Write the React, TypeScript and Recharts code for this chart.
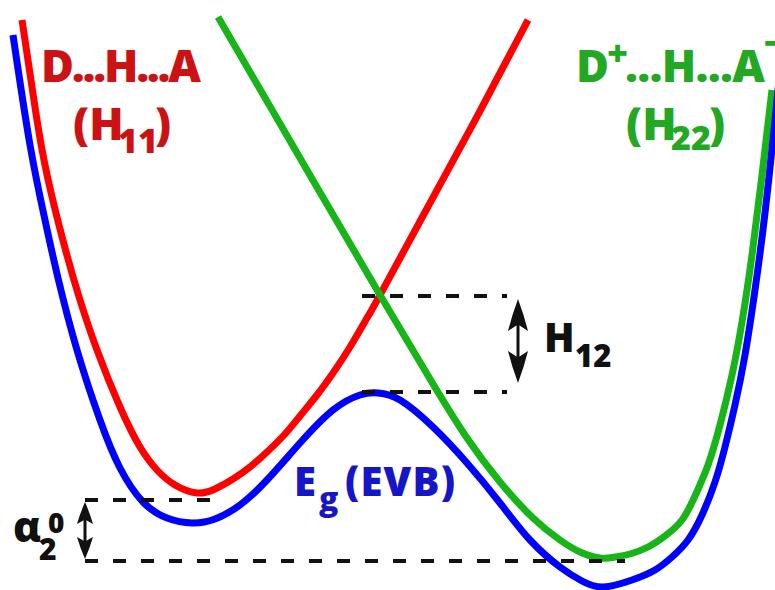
import React from 'react'
import { LineChart, Line, XAxis, YAxis, ReferenceLine } from 'recharts'

// reaction coordinate (left→right) and energy (0 at the bottom edge)
const redRc = [22, 32, 45, 65, 80, 97, 120, 140, 157, 175, 197, 215, 233, 250, 267, 285, 300, 317, 333, 350, 367, 380, 430, 480, 528]
const redE = [570, 503, 425, 342, 290, 240, 183, 143, 120, 105, 97, 101, 111, 123, 138, 156, 174, 195, 217, 243, 272, 295, 387, 479, 570]

const greenRc = [218, 300, 380, 433, 467, 500, 533, 560, 580, 600, 615, 630, 648, 665, 682, 695, 708, 720, 732, 742, 752, 762, 772]
const greenE = [573, 432, 295, 206, 152, 108, 72, 50, 38, 32, 33, 36, 43, 54, 70, 94, 125, 165, 215, 268, 335, 415, 500]

const blueRc = [13, 30, 45, 58, 77, 100, 120, 143, 167, 192, 215, 240, 267, 300, 333, 360, 378, 400, 433, 467, 500, 530, 560, 582, 603, 632, 655, 672, 688, 702, 715, 725, 735, 745, 755, 765, 775, 780]
const blueE = [555, 445, 370, 312, 240, 170, 122, 88, 72, 67, 71, 85, 110, 147, 180, 195, 197, 190, 163, 127, 87, 50, 23, 9, 3, 10, 20, 33, 50, 75, 108, 143, 185, 235, 300, 377, 470, 520]

// dashed guide levels
const alphaTopE = 90
const alphaBottomE = 29
const alphaStartRc = 85
const alphaTopEndRc = 210
const alphaBottomEndRc = 625
const h12TopE = 294
const h12BottomE = 198
const h12StartRc = 362
const h12EndRc = 507

// double arrows
const h12ArrowRc = 518
const h12ArrowE = [291, 207]
const alphaArrowRc = 85
const alphaArrowE = [88, 31]

const toPoints = (rc: number[], e: number[]) => rc.map((x, i) => ({ rc: x, e: e[i] }))

const redData = toPoints(redRc, redE)
const greenData = toPoints(greenRc, greenE)
const blueData = toPoints(blueRc, blueE)

const W = 775
const H = 590
const FONT = "'Open Sans', 'DejaVu Sans', sans-serif"
const RED_TEXT = '#cc1212'
const GREEN_TEXT = '#22a822'
const BLUE_TEXT = '#1616c8'
const INK = '#111111'

const DoubleArrow = ({ x1, y1, y2, head, wing }: any) => {
  const top = Math.min(y1, y2)
  const bot = Math.max(y1, y2)
  const x = x1
  const tipPath = (tip: number, dir: number) => {
    const base = tip + dir * head
    const notch = tip + dir * head * 0.8
    const mid = tip + dir * head * 0.5
    return `M${x},${tip} Q${x + wing * 0.6},${mid} ${x + wing},${base} L${x},${notch} L${x - wing},${base} Q${x - wing * 0.6},${mid} ${x},${tip} Z`
  }
  return (
    <g>
      <line x1={x} y1={top + head * 0.5} x2={x} y2={bot - head * 0.5} stroke={INK} strokeWidth={3} />
      <path d={tipPath(top, 1)} fill={INK} />
      <path d={tipPath(bot, -1)} fill={INK} />
    </g>
  )
}

const dashed = { stroke: INK, strokeWidth: 4, strokeDasharray: '13 15' }

export default function App() {
  return (
    <div style={{ position: 'relative', width: W, height: H, background: '#fff' }}>
      <style>{'body{margin:0}'}</style>
      <LineChart width={W} height={H} margin={{ top: 0, right: 0, bottom: 0, left: 0 }}>
        <XAxis dataKey="rc" type="number" domain={[0, W]} allowDataOverflow hide />
        <YAxis type="number" domain={[0, H]} allowDataOverflow hide />
        <Line data={redData} dataKey="e" type="natural" stroke="#ff0000" strokeWidth={7} dot={false} activeDot={false} isAnimationActive={false} />
        <Line data={greenData} dataKey="e" type="natural" stroke="#17b517" strokeWidth={7} dot={false} activeDot={false} isAnimationActive={false} />
        <Line data={blueData} dataKey="e" type="natural" stroke="#0000ff" strokeWidth={7} dot={false} activeDot={false} isAnimationActive={false} />
        <ReferenceLine segment={[{ x: alphaStartRc, y: alphaTopE }, { x: alphaTopEndRc, y: alphaTopE }]} {...dashed} />
        <ReferenceLine segment={[{ x: alphaStartRc, y: alphaBottomE }, { x: alphaBottomEndRc, y: alphaBottomE }]} {...dashed} />
        <ReferenceLine segment={[{ x: h12StartRc, y: h12TopE }, { x: h12EndRc, y: h12TopE }]} {...dashed} />
        <ReferenceLine segment={[{ x: h12StartRc, y: h12BottomE }, { x: h12EndRc, y: h12BottomE }]} {...dashed} />
        <ReferenceLine
          segment={[{ x: h12ArrowRc, y: h12ArrowE[0] }, { x: h12ArrowRc, y: h12ArrowE[1] }]}
          stroke={INK}
          shape={(p: any) => <DoubleArrow {...p} head={32} wing={10} />}
        />
        <ReferenceLine
          segment={[{ x: alphaArrowRc, y: alphaArrowE[0] }, { x: alphaArrowRc, y: alphaArrowE[1] }]}
          stroke={INK}
          shape={(p: any) => <DoubleArrow {...p} head={22} wing={8} />}
        />
      </LineChart>
      <svg
        width={W}
        height={H}
        style={{ position: 'absolute', left: 0, top: 0, pointerEvents: 'none' }}
        fontFamily={FONT}
        fontWeight={800}
      >
        {/* H11 label */}
        <text x={41} y={82} fontSize={45} fill={RED_TEXT} textLength={160} lengthAdjust="spacing">D...H...A</text>
        <text x={73} y={140} fontSize={45} fill={RED_TEXT}>
          (H
          <tspan x={118} y={153} fontSize={34}>11</tspan>
          <tspan x={155} y={140}>)</tspan>
        </text>

        {/* H22 label */}
        <text x={576} y={82} fontSize={45} fill={GREEN_TEXT}>
          D
          <tspan x={607} y={66} fontSize={36}>+</tspan>
          <tspan x={625} y={82} textLength={140} lengthAdjust="spacing">...H...A</tspan>
          <tspan x={764} y={56} fontSize={36}>−</tspan>
        </text>
        <text x={626} y={140} fontSize={45} fill={GREEN_TEXT}>
          (H
          <tspan x={671} y={150} fontSize={34}>22</tspan>
          <tspan x={709} y={140}>)</tspan>
        </text>

        {/* ground state label */}
        <text x={294} y={496} fontSize={40} fill={BLUE_TEXT}>
          E
          <tspan x={319} y={510} fontSize={32}>g</tspan>
          <tspan x={345} y={496} textLength={110} lengthAdjust="spacing">(EVB)</tspan>
        </text>

        {/* coupling label */}
        <text x={544} y={352} fontSize={40} fill={INK}>
          H
          <tspan x={575} y={367} fontSize={31}>12</tspan>
        </text>

        {/* alpha label */}
        <text x={13} y={542} fontSize={42} fill={INK}>
          α
          <tspan x={48} y={533} fontSize={28}>0</tspan>
          <tspan x={39} y={560} fontSize={30}>2</tspan>
        </text>
      </svg>
    </div>
  )
}
